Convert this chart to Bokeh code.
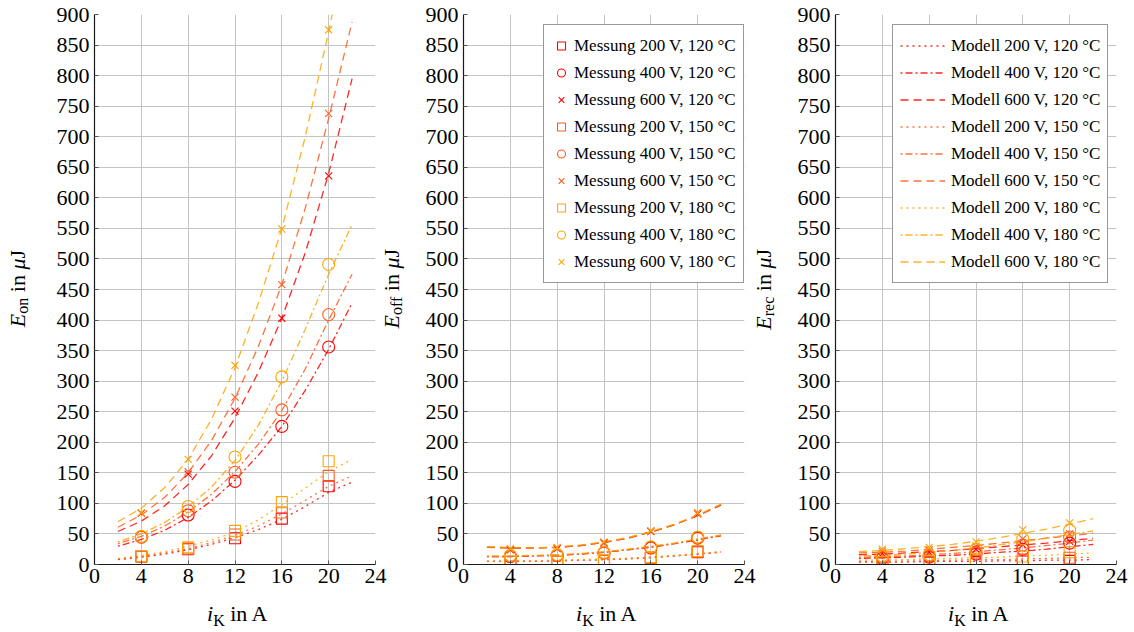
from bokeh.plotting import figure
from bokeh.layouts import row, column
from bokeh.models import Legend, LegendItem, FixedTicker, Range1d, Div
from bokeh.embed import file_html
from bokeh.resources import INLINE

# ---------------- data ----------------
i_meas = [4, 8, 12, 16, 20]
i_model = [2, 4, 6, 8, 10, 12, 14, 16, 18, 20, 22]
x_ticks = [0, 4, 8, 12, 16, 20, 24]
y_ticks = list(range(0, 901, 50))
voltages = ["200", "400", "600"]
temperatures = ["120", "150", "180"]

# E_on measurements (uJ)
eon_meas_200_120 = [13, 25, 43, 75, 128]
eon_meas_400_120 = [45, 81, 136, 226, 356]
eon_meas_600_120 = [84, 148, 251, 403, 636]
eon_meas_200_150 = [13, 26, 49, 85, 145]
eon_meas_400_150 = [45, 88, 151, 253, 409]
eon_meas_600_150 = [84, 152, 274, 458, 738]
eon_meas_200_180 = [14, 28, 55, 102, 169]
eon_meas_400_180 = [46, 95, 176, 307, 491]
eon_meas_600_180 = [85, 172, 326, 549, 875]
# E_on model
eon_mod_200_120 = [8, 12, 17, 24, 33, 44, 57, 74, 95, 118, 135]
eon_mod_200_150 = [9, 13, 19, 26, 36, 48, 63, 83, 105, 128, 145]
eon_mod_200_180 = [10, 15, 21, 30, 40, 53, 73, 98, 125, 152, 172]
eon_mod_400_120 = [30, 41, 56, 77, 104, 138, 179, 226, 285, 352, 428]
eon_mod_400_150 = [34, 46, 63, 86, 115, 152, 197, 252, 320, 400, 475]
eon_mod_400_180 = [37, 50, 69, 94, 127, 170, 228, 300, 385, 475, 556]
eon_mod_600_120 = [54, 71, 96, 131, 178, 240, 315, 403, 510, 640, 795]
eon_mod_600_150 = [61, 81, 110, 150, 203, 272, 357, 458, 583, 730, 888]
eon_mod_600_180 = [70, 92, 126, 172, 238, 322, 428, 550, 700, 872, 1060]

# E_off measurements
eoff_meas_200_120 = [4, 4, 6, 11, 20]
eoff_meas_400_120 = [13, 15, 19, 27, 43]
eoff_meas_600_120 = [24, 26, 35, 54, 83]
eoff_meas_200_150 = [4, 4, 6, 11, 21]
eoff_meas_400_150 = [14, 15, 19, 28, 44]
eoff_meas_600_150 = [25, 27, 36, 55, 85]
eoff_meas_200_180 = [5, 5, 7, 12, 22]
eoff_meas_400_180 = [15, 16, 20, 29, 45]
eoff_meas_600_180 = [26, 28, 37, 55, 84]
# E_off model
eoff_mod_200_120 = [5, 5, 5, 6, 7, 8, 9, 11, 14, 17, 20]
eoff_mod_200_150 = [5, 5, 6, 6, 7, 8, 10, 12, 14, 17, 21]
eoff_mod_200_180 = [6, 6, 6, 7, 8, 9, 10, 12, 15, 18, 21]
eoff_mod_400_120 = [13, 13, 14, 15, 17, 20, 24, 28, 34, 40, 47]
eoff_mod_400_150 = [13, 13, 14, 15, 17, 20, 24, 29, 34, 41, 48]
eoff_mod_400_180 = [14, 14, 15, 16, 18, 21, 25, 30, 35, 42, 48]
eoff_mod_600_120 = [28, 27, 27, 28, 31, 36, 43, 53, 65, 80, 97]
eoff_mod_600_150 = [29, 27, 27, 28, 31, 36, 43, 53, 65, 80, 98]
eoff_mod_600_180 = [29, 28, 27, 29, 32, 37, 44, 54, 66, 81, 99]

# E_rec measurements
erec_meas_200_120 = [2, 3, 4, 5, 6]
erec_meas_400_120 = [10, 12, 17, 25, 35]
erec_meas_600_120 = [18, 20, 25, 32, 38]
erec_meas_200_150 = [3, 4, 6, 8, 11]
erec_meas_400_150 = [12, 14, 20, 32, 45]
erec_meas_600_150 = [22, 24, 30, 42, 50]
erec_meas_200_180 = [4, 6, 9, 13, 20]
erec_meas_400_180 = [14, 16, 25, 42, 56]
erec_meas_600_180 = [25, 28, 37, 57, 68]
# E_rec model
erec_mod_200_120 = [4, 4, 4, 5, 5, 5, 6, 6, 7, 7, 8]
erec_mod_200_150 = [5, 5, 6, 6, 7, 8, 8, 9, 10, 11, 12]
erec_mod_200_180 = [7, 7, 8, 9, 10, 11, 12, 14, 15, 17, 19]
erec_mod_400_120 = [10, 11, 12, 14, 15, 17, 20, 22, 25, 29, 33]
erec_mod_400_150 = [12, 13, 14, 16, 18, 21, 24, 27, 31, 35, 40]
erec_mod_400_180 = [14, 15, 17, 20, 23, 27, 32, 37, 43, 49, 55]
erec_mod_600_120 = [16, 17, 19, 21, 23, 26, 29, 32, 35, 39, 43]
erec_mod_600_150 = [19, 20, 22, 25, 28, 31, 35, 39, 43, 47, 51]
erec_mod_600_180 = [21, 23, 26, 29, 33, 38, 44, 51, 58, 66, 75]

y_subscripts = ["on", "off", "rec"]

panel_data = {
    "on": (
        {("200", "120"): eon_meas_200_120, ("400", "120"): eon_meas_400_120, ("600", "120"): eon_meas_600_120,
         ("200", "150"): eon_meas_200_150, ("400", "150"): eon_meas_400_150, ("600", "150"): eon_meas_600_150,
         ("200", "180"): eon_meas_200_180, ("400", "180"): eon_meas_400_180, ("600", "180"): eon_meas_600_180},
        {("200", "120"): eon_mod_200_120, ("400", "120"): eon_mod_400_120, ("600", "120"): eon_mod_600_120,
         ("200", "150"): eon_mod_200_150, ("400", "150"): eon_mod_400_150, ("600", "150"): eon_mod_600_150,
         ("200", "180"): eon_mod_200_180, ("400", "180"): eon_mod_400_180, ("600", "180"): eon_mod_600_180}),
    "off": (
        {("200", "120"): eoff_meas_200_120, ("400", "120"): eoff_meas_400_120, ("600", "120"): eoff_meas_600_120,
         ("200", "150"): eoff_meas_200_150, ("400", "150"): eoff_meas_400_150, ("600", "150"): eoff_meas_600_150,
         ("200", "180"): eoff_meas_200_180, ("400", "180"): eoff_meas_400_180, ("600", "180"): eoff_meas_600_180},
        {("200", "120"): eoff_mod_200_120, ("400", "120"): eoff_mod_400_120, ("600", "120"): eoff_mod_600_120,
         ("200", "150"): eoff_mod_200_150, ("400", "150"): eoff_mod_400_150, ("600", "150"): eoff_mod_600_150,
         ("200", "180"): eoff_mod_200_180, ("400", "180"): eoff_mod_400_180, ("600", "180"): eoff_mod_600_180}),
    "rec": (
        {("200", "120"): erec_meas_200_120, ("400", "120"): erec_meas_400_120, ("600", "120"): erec_meas_600_120,
         ("200", "150"): erec_meas_200_150, ("400", "150"): erec_meas_400_150, ("600", "150"): erec_meas_600_150,
         ("200", "180"): erec_meas_200_180, ("400", "180"): erec_meas_400_180, ("600", "180"): erec_meas_600_180},
        {("200", "120"): erec_mod_200_120, ("400", "120"): erec_mod_400_120, ("600", "120"): erec_mod_600_120,
         ("200", "150"): erec_mod_200_150, ("400", "150"): erec_mod_400_150, ("600", "150"): erec_mod_600_150,
         ("200", "180"): erec_mod_200_180, ("400", "180"): erec_mod_400_180, ("600", "180"): erec_mod_600_180}),
}

# ---------------- styles ----------------
FONT = "Liberation Serif"
temp_colors = {"120": "#ff0000", "150": "#ff5a1f", "180": "#ffa500"}
volt_markers = {"200": "square", "400": "circle", "600": "x"}
volt_sizes = {"200": 11, "400": 12, "600": 10}
volt_dash = {"200": "2 4", "400": "2 3 7 3", "600": "8 5"}

FRAME_W, FRAME_H = 281, 550
FIG_TOP, FIG_BOTTOM = 14, 36
borders = [(54, 12), (44, 12), (45, 18)]
ydiv_widths = [40, 32, 34]
ydiv_shift = [-2, -11, -9]


def make_fig(idx):
    bl, br = borders[idx]
    p = figure(frame_width=FRAME_W, frame_height=FRAME_H, x_range=Range1d(0, 24), y_range=Range1d(0, 900),
               output_backend="svg", toolbar_location=None, min_border_left=bl, min_border_right=br,
               min_border_top=FIG_TOP, min_border_bottom=FIG_BOTTOM)
    p.outline_line_color = None
    p.background_fill_color = "white"
    p.border_fill_color = "white"
    p.xaxis.ticker = FixedTicker(ticks=x_ticks)
    p.yaxis.ticker = FixedTicker(ticks=y_ticks)
    for ax in (p.xaxis, p.yaxis):
        ax.axis_line_color = "#1a1a1a"
        ax.axis_line_width = 1.2
        ax.major_tick_in = 4
        ax.major_tick_out = 0
        ax.major_tick_line_color = "#555555"
        ax.minor_tick_line_color = None
        ax.major_label_text_font = FONT
        ax.major_label_text_font_size = "22px"
        ax.major_label_text_color = "black"
    p.yaxis.major_label_standoff = 5
    p.xaxis.major_label_standoff = 4
    p.xgrid.ticker = FixedTicker(ticks=x_ticks)
    p.ygrid.ticker = FixedTicker(ticks=y_ticks)
    for g in (p.xgrid, p.ygrid):
        g.grid_line_color = "#c4c4c4"
        g.grid_line_width = 1
    return p


def draw_panel(p, key):
    meas, mod = panel_data[key]
    lines, marks = {}, {}
    for t in temperatures:
        for v in voltages:
            lines[(v, t)] = p.line(i_model, mod[(v, t)], line_color=temp_colors[t], line_width=1.3,
                                   line_dash=volt_dash[v], line_alpha=0.85)
    for t in temperatures:
        for v in voltages:
            marks[(v, t)] = p.scatter(i_meas, meas[(v, t)], marker=volt_markers[v], size=volt_sizes[v],
                                      line_color=temp_colors[t], fill_color=None, line_width=1.1)
    return lines, marks


figs = [make_fig(i) for i in range(3)]
res = [draw_panel(f, k) for f, k in zip(figs, ["on", "off", "rec"])]

# legends
items_meas = [LegendItem(label=f"Messung {v} V, {t} °C", renderers=[res[1][1][(v, t)]])
              for t in temperatures for v in voltages]
items_mod = [LegendItem(label=f"Modell {v} V, {t} °C", renderers=[res[2][0][(v, t)]])
             for t in temperatures for v in voltages]


def style_legend(lg, gw, standoff):
    lg.label_text_font = FONT
    lg.label_text_font_size = "17px"
    lg.label_text_color = "black"
    lg.glyph_width = gw
    lg.glyph_height = 27
    lg.label_height = 27
    lg.spacing = 0
    lg.padding = 7
    lg.label_standoff = standoff
    lg.border_line_color = "#333333"
    lg.border_line_width = 1
    lg.background_fill_color = "white"
    lg.background_fill_alpha = 1.0


lg1 = Legend(items=items_meas, location=(80, 281))
style_legend(lg1, 20, 3)
figs[1].add_layout(lg1)
lg2 = Legend(items=items_mod, location=(57, 281))
style_legend(lg2, 45, 6)
figs[2].add_layout(lg2)

# ---------------- axis labels as real HTML text ----------------
TXT = "font-family:'Liberation Serif',serif;font-size:22px;color:black;white-space:nowrap;"
SUB = "font-size:16px;vertical-align:-5px;line-height:0;"
FIG_H = FIG_TOP + FRAME_H + FIG_BOTTOM


def ylabel_div(width, sub, shift):
    html = (f'<div style="width:{width}px;height:{FIG_TOP * 2 + FRAME_H}px;display:flex;'
            f'align-items:center;justify-content:center;overflow:visible;">'
            f'<span style="{TXT}writing-mode:vertical-rl;transform:translateX({shift}px) rotate(180deg);'
            f'line-height:24px;">'
            f'<i>E</i><span style="{SUB}">{sub}</span> in <i>μ</i>J</span></div>')
    return Div(text=html, width=width, height=FIG_H, margin=0,
               styles={"overflow": "visible", "padding": "0", "z-index": "5"})


def xlabel_div(width, pad_left):
    html = (f'<div style="{TXT}padding-left:{pad_left}px;padding-top:2px;line-height:24px;">'
            f'<i>i</i><span style="{SUB}">K</span> in A</div>')
    return Div(text=html, width=width, height=632 - FIG_H, margin=0,
               styles={"overflow": "visible", "padding": "0"})


ydivs = [ylabel_div(w, s, sh) for w, s, sh in zip(ydiv_widths, y_subscripts, ydiv_shift)]
top_row = row(ydivs[0], figs[0], ydivs[1], figs[1], ydivs[2], figs[2], spacing=0)

panel_widths = [ydiv_widths[i] + borders[i][0] + FRAME_W + borders[i][1] for i in range(3)]
frame_lefts = [ydiv_widths[i] + borders[i][0] for i in range(3)]
label_starts = [fl + 113 for fl in frame_lefts]
xdivs = [xlabel_div(w, s) for w, s in zip(panel_widths, label_starts)]
bottom_row = row(*xdivs, spacing=0)

layout = column(top_row, bottom_row, spacing=0)
open("out.html", "w").write(file_html(layout, INLINE))
